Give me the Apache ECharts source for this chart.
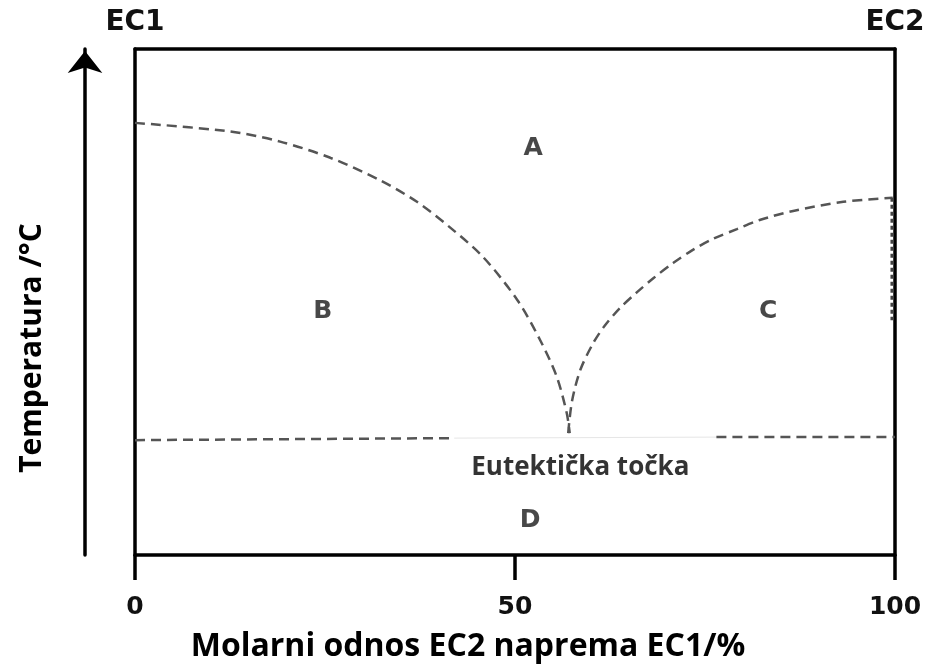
<!DOCTYPE html>
<html>
<head>
<meta charset="utf-8">
<title>Eutektički dijagram</title>
<script src="https://cdn.jsdelivr.net/npm/echarts@6/dist/echarts.min.js"></script>
<style>
  html, body { margin: 0; padding: 0; background: #fff; }
  #main { width: 934px; height: 666px; }
</style>
</head>
<body>
<div id="main"></div>
<script>
// x = molarni udio EC2 (%), y = temperatura (bez skale, 0-100 samo za crtanje)
var xTicks = [0, 50, 100];
var topNames = { 0: "EC1", 100: "EC2" };

// likvidus krivulje (ocitano sa slike)
var leftCurveX = [0, 12.5, 19.1, 25.7, 32.2, 37.1, 41.4, 45.8, 50.3, 53.3, 55.5, 56.8, 57.2];
var leftCurveY = [85.4, 83.7, 81.7, 78.5, 74.1, 69.8, 64.8, 58.9, 50.4, 42.5, 35.2, 28.1, 24.1];
var rightCurveX = [57.0, 57.5, 58.6, 60.3, 61.8, 63.8, 66.1, 68.2, 70.8, 73.4, 76.1, 79.2, 82.2, 86.6, 93.2, 99.7];
var rightCurveY = [24.1, 30.4, 36.6, 41.9, 45.3, 48.8, 52.0, 54.7, 57.7, 60.3, 62.5, 64.4, 66.2, 68.0, 69.8, 70.6];
var edgeX = [99.6, 99.6];
var edgeY = [70.6, 46.4];

// eutekticka linija (sredina je prekrivena natpisom)
var eutLeftX = [0, 42];
var eutLeftY = [22.7, 23.1];
var eutGapX = [42, 76.5];
var eutGapY = [23.1, 23.3];
var eutRightX = [76.5, 100];
var eutRightY = [23.3, 23.3];

// oznake podrucja
var regionNames = ["A", "B", "C", "D"];
var regionX = [52.4, 24.7, 83.3, 52.0];
var regionY = [80.4, 48.2, 48.2, 6.9];
var eutText = "Eutektička točka";
var eutTextX = 58.6;
var eutTextY = 17.2;

function pairs(xs, ys) {
  return xs.map(function (x, i) { return [x, ys[i]]; });
}

var dash = { color: "#555", width: 2.5, type: [10, 6] };

function dashedLine(xs, ys, style, smooth) {
  return {
    type: "line",
    data: pairs(xs, ys),
    showSymbol: false,
    smooth: smooth || false,
    lineStyle: style,
    silent: true,
    z: 3
  };
}

var myChart = echarts.init(document.getElementById("main"));
var option = {
  animation: false,
  backgroundColor: "#fff",
  grid: { left: 135, right: 39, top: 49, bottom: 111, outerBoundsMode: "none" },
  xAxis: [
    {
      type: "value",
      position: "bottom",
      min: 0,
      max: 100,
      interval: 50,
      axisLine: { show: true, onZero: false, lineStyle: { color: "#000", width: 3.5 } },
      axisTick: { show: true, length: 25, lineStyle: { color: "#000", width: 3.5 } },
      axisLabel: {
        margin: 40,
        color: "#111",
        fontFamily: "DejaVu Sans",
        fontWeight: "bold",
        fontSize: 25,
        formatter: function (v) { return xTicks.indexOf(v) >= 0 ? String(v) : ""; }
      },
      splitLine: { show: false },
      name: "Molarni odnos EC2 naprema EC1/%",
      nameLocation: "middle",
      nameGap: 76,
      nameTextStyle: {
        color: "#000",
        fontFamily: "Open Sans",
        fontWeight: "bold",
        fontSize: 32,
        padding: [0, 94, 0, 0]
      }
    },
    {
      type: "value",
      position: "top",
      min: 0,
      max: 100,
      interval: 100,
      axisLine: { show: true, onZero: false, lineStyle: { color: "#000", width: 3.5 } },
      axisTick: { show: false },
      axisLabel: {
        margin: 12,
        color: "#111",
        fontFamily: "DejaVu Sans",
        fontWeight: "bold",
        fontSize: 28,
        formatter: function (v) { return topNames[v] || ""; }
      },
      splitLine: { show: false }
    }
  ],
  yAxis: [
    {
      type: "value",
      position: "left",
      min: 0,
      max: 100,
      axisLine: { show: true, onZero: false, lineStyle: { color: "#000", width: 3.5 } },
      axisTick: { show: false },
      axisLabel: { show: false },
      splitLine: { show: false }
    },
    {
      type: "value",
      position: "right",
      min: 0,
      max: 100,
      axisLine: { show: true, onZero: false, lineStyle: { color: "#000", width: 3.5 } },
      axisTick: { show: false },
      axisLabel: { show: false },
      splitLine: { show: false }
    },
    {
      // strelica temperature
      type: "value",
      position: "left",
      offset: 50,
      min: 0,
      max: 100,
      axisLine: {
        show: true,
        onZero: false,
        symbol: ["none", "arrow"],
        symbolSize: [26, 22],
        symbolOffset: [0, -2],
        lineStyle: { color: "#000", width: 3.5 }
      },
      axisTick: { show: false },
      axisLabel: { show: false },
      splitLine: { show: false },
      name: "Temperatura /°C",
      nameLocation: "middle",
      nameRotate: 90,
      nameGap: 38,
      nameTextStyle: {
        color: "#000",
        fontFamily: "Open Sans",
        fontWeight: "bold",
        fontSize: 30,
        padding: [0, 92, 0, 0]
      }
    }
  ],
  series: [
    dashedLine(leftCurveX, leftCurveY, dash, 0.3),
    dashedLine(rightCurveX, rightCurveY, dash, 0.3),
    dashedLine(edgeX, edgeY, { color: "#444", width: 3, type: [4, 3] }),
    dashedLine(eutLeftX, eutLeftY, dash),
    dashedLine(eutGapX, eutGapY, { color: "#e6e6e6", width: 1 }),
    dashedLine(eutRightX, eutRightY, dash),
    {
      type: "scatter",
      symbolSize: 0,
      silent: true,
      data: regionNames.map(function (n, i) { return { name: n, value: [regionX[i], regionY[i]] }; }),
      label: {
        show: true,
        position: "inside",
        formatter: "{b}",
        color: "#1a1a1a",
        textBorderWidth: 0,
        fontFamily: "DejaVu Sans",
        fontWeight: "bold",
        fontSize: 25
      }
    },
    {
      type: "scatter",
      symbolSize: 0,
      silent: true,
      data: [{ name: eutText, value: [eutTextX, eutTextY] }],
      label: {
        show: true,
        position: "inside",
        formatter: "{b}",
        color: "#000",
        textBorderWidth: 0,
        fontFamily: "Open Sans",
        fontWeight: "bold",
        fontSize: 26
      }
    }
  ]
};

option && myChart.setOption(option);
</script>
</body>
</html>
